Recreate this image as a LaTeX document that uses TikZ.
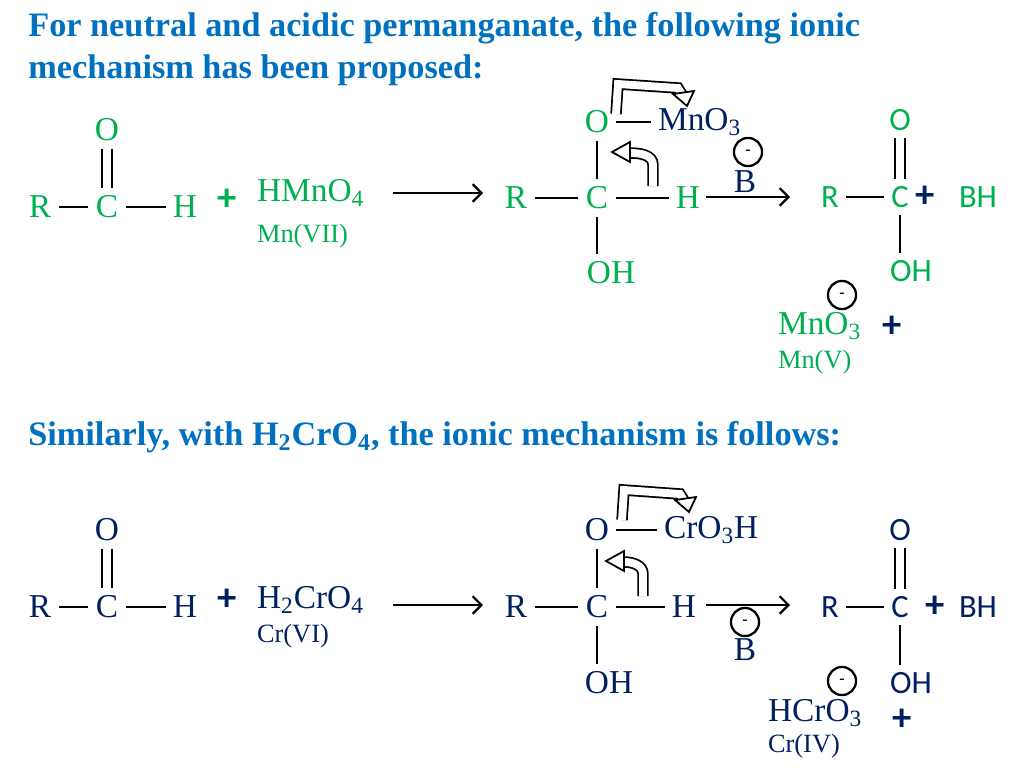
\documentclass[tikz,border=0pt]{standalone}
\usepackage{fontspec}
\setmainfont{Liberation Serif}
\newfontfamily\calfont{Carlito}
\usetikzlibrary{arrows.meta}
\definecolor{grn}{RGB}{0,176,80}
\definecolor{navy}{RGB}{0,32,96}
\definecolor{ttl}{RGB}{0,112,192}
\tikzset{
  title/.style={anchor=west, inner sep=0pt, text=ttl, font=\bfseries\fontsize{19.5}{19.5}\selectfont},
  atom/.style={inner sep=1pt, font=\fontsize{19}{19}\selectfont},
  satom/.style={inner sep=1pt, font=\calfont\fontsize{18.5}{18.5}\selectfont},
  small/.style={inner sep=1pt, font=\fontsize{15}{15}\selectfont},
  plus/.style={inner sep=1pt, font=\calfont\bfseries\fontsize{22}{22}\selectfont},
  bond/.style={line width=1.3pt, shorten <=3pt, shorten >=3pt},
  rxn/.style={line width=1.3pt, -{Straight Barb[length=5pt]}},
  curly/.style={draw=black, double=white, double distance=4.5pt, line width=1pt},
  anion/.style={circle, draw, line width=1.3pt, minimum size=16pt, inner sep=0pt, font=\bfseries\small}
}
\newcommand{\sub}[1]{\textsubscript{#1}}
\begin{document}
\begin{tikzpicture}[x=0.02cm, y=-0.02cm]
	\useasboundingbox (0,0) rectangle (1024,768);
	\node[title] at (28,28) {For neutral and acidic permanganate, the following ionic};
	\node[title] at (28,70) {mechanism has been proposed:};
	% first scheme
	\begin{scope}[text=grn]
	\node[atom] (r1) at (40,207) {R};
	\node[atom] (c1) at (107,207) {C};
	\node[atom] (h1) at (185,207) {H};
	\node[atom] (o1) at (107,130) {O};
	\node[plus] (p1) at (227,200) {+};
	\node[atom, anchor=west] (ox1) at (255,193) {HMnO\sub{4}};
	\node[small, anchor=west] (mn1) at (255,236) {Mn(VII)};
	\node[atom] (r2) at (516,198) {R};
	\node[atom] (c2) at (597,198) {C};
	\node[atom] (h2) at (688,198) {H};
	\node[atom] (o2) at (597,122) {O};
	\node[atom] (oh2) at (611,273) {OH};
	\node[satom] (r3) at (830,197) {R};
	\node[satom] (c3) at (900,197) {C};
	\node[satom] (bh3) at (978,197) {BH};
	\node[satom] (o3) at (900,120) {O};
	\node[satom] (oh3) at (911,271) {OH};
	\node[atom, anchor=west] (mno3) at (776,326) {MnO\sub{3}};
	\node[small, anchor=west] (mn5) at (776,362) {Mn(V)};
	\end{scope}
	\node[atom, text=navy, anchor=west] (lg2) at (656,122) {MnO\sub{3}};
	\node[anion] (neg1) at (748,152) {-};
	\node[atom, text=navy] (b1) at (745,182) {B};
	\node[plus, text=navy] (p3) at (925,197) {+};
	\node[anion] (neg2) at (842,295) {-};
	\node[plus, text=navy] (p4) at (892,327) {+};
	\draw[bond] (r1) -- (c1);
	\draw[bond] (c1) -- (h1);
	\draw[bond, double, double distance=5pt, line width=1.1pt] (o1) -- (c1);
	\draw[rxn] (393,193) -- (483,193);
	\draw[bond] (r2) -- (c2);
	\draw[bond] (c2) -- (h2);
	\draw[bond] (c2) -- (o2);
	\draw[bond] (c2) -- (oh2.north -| c2);
	\draw[bond] (o2) -- (lg2);
	\draw[rxn] (706,197) -- (790,197);
	\draw[bond] (r3) -- (c3);
	\draw[bond, double, double distance=5pt, line width=1.1pt] (o3) -- (c3);
	\draw[bond] (c3) -- (oh3.north -| c3);
	\draw[curly] (616,114) -- (618,84) -- (678,88) -- (683,96);
	\draw[line width=1pt, fill=white] (673,94) -- (694,91) -- (687,106) -- cycle;
	\draw[curly] (653,186) -- (653,165) to[out=90, in=0] (630,153);
	\draw[line width=1pt, fill=white] (630,142) -- (612,152) -- (630,162) -- cycle;
	% second scheme
	\node[title] at (28,437) {Similarly, with H\sub{2}CrO\sub{4}, the ionic mechanism is follows:};
	\begin{scope}[text=navy]
	\node[atom] (r4) at (40,607) {R};
	\node[atom] (c4) at (107,607) {C};
	\node[atom] (h4) at (185,607) {H};
	\node[atom] (o4) at (107,530) {O};
	\node[plus] (p5) at (227,600) {+};
	\node[atom, anchor=west] (ox4) at (255,600) {H\sub{2}CrO\sub{4}};
	\node[small, anchor=west] (cr6) at (255,636) {Cr(VI)};
	\node[atom] (r5) at (516,607) {R};
	\node[atom] (c5) at (597,607) {C};
	\node[atom] (h5) at (684,607) {H};
	\node[atom] (o5) at (597,530) {O};
	\node[atom, anchor=west] (lg5) at (662,530) {CrO\sub{3}H};
	\node[atom] (oh5) at (609,683) {OH};
	\node[atom] (b2) at (745,650) {B};
	\node[satom] (r6) at (830,607) {R};
	\node[satom] (c6) at (900,607) {C};
	\node[plus] (p6) at (935,607) {+};
	\node[satom] (bh6) at (978,607) {BH};
	\node[satom] (o6) at (900,530) {O};
	\node[satom] (oh6) at (911,683) {OH};
	\node[atom, anchor=west] (hcro3) at (766,713) {HCrO\sub{3}};
	\node[plus] (p7) at (902,720) {+};
	\node[small, anchor=west] (cr4) at (766,746) {Cr(IV)};
	\end{scope}
	\node[anion] (neg3) at (745,622) {-};
	\node[anion] (neg4) at (842,681) {-};
	\draw[bond] (r4) -- (c4);
	\draw[bond] (c4) -- (h4);
	\draw[bond, double, double distance=5pt, line width=1.1pt] (o4) -- (c4);
	\draw[rxn] (393,605) -- (483,605);
	\draw[bond] (r5) -- (c5);
	\draw[bond] (c5) -- (h5);
	\draw[bond] (c5) -- (o5);
	\draw[bond] (c5) -- (oh5.north -| c5);
	\draw[bond] (o5) -- (lg5);
	\draw[rxn] (706,605) -- (790,605);
	\draw[bond] (r6) -- (c6);
	\draw[bond, double, double distance=5pt, line width=1.1pt] (o6) -- (c6);
	\draw[bond] (c6) -- (oh6.north -| c6);
	\draw[curly] (622,520) -- (624,490) -- (680,494) -- (685,502);
	\draw[line width=1pt, fill=white] (675,500) -- (696,497) -- (689,512) -- cycle;
	\draw[curly] (643,596) -- (643,574) to[out=90, in=0] (624,562);
	\draw[line width=1pt, fill=white] (624,551) -- (606,561) -- (624,571) -- cycle;
\end{tikzpicture}
\end{document}
